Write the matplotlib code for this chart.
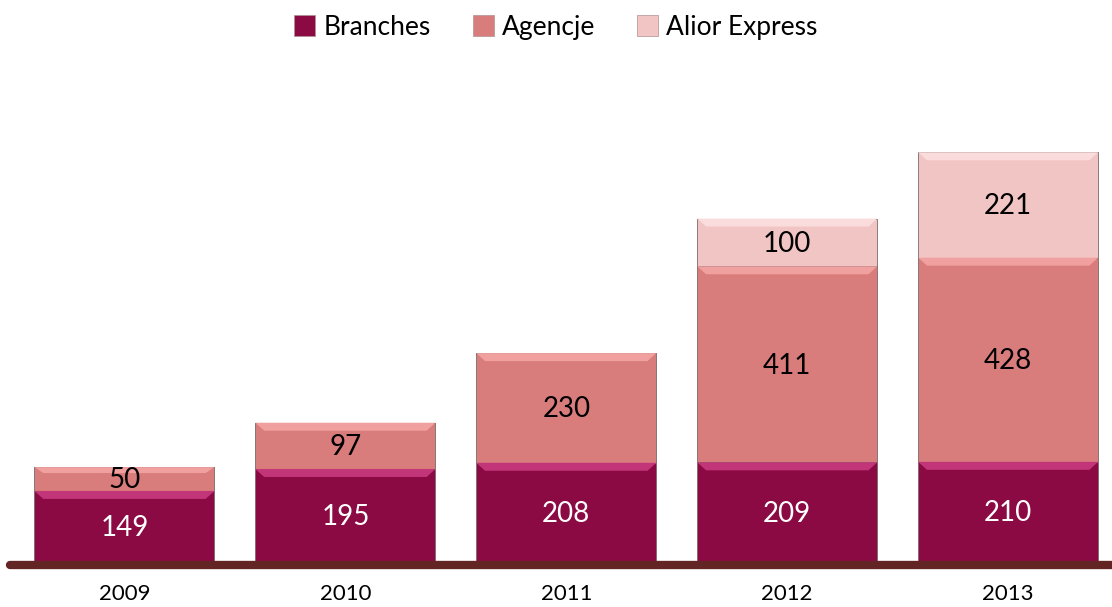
import matplotlib
matplotlib.use("Agg")
import matplotlib.pyplot as plt
from matplotlib.patches import Polygon, Patch
import numpy as np

plt.rcParams['font.family'] = ['Lato', 'DejaVu Sans']

# data
years = ['2009', '2010', '2011', '2012', '2013']
branches = [149, 195, 208, 209, 210]
agencje = [50, 97, 230, 411, 428]
alior_express = [0, 0, 0, 100, 221]

series = [
    ('Branches', branches, '#8C0A44', '#C23578', 'white'),
    ('Agencje', agencje, '#D97C7C', '#F0A09E', 'black'),
    ('Alior Express', alior_express, '#F2C5C5', '#FADCDC', 'black'),
]

fig = plt.figure(figsize=(11.12, 6.07), dpi=100)
ax = fig.add_axes([14 / 1112, 45 / 607, 1098 / 1112, 460 / 607])

x = np.arange(len(years))
width = 0.815
ax.set_xlim(-0.5, 4.47)
ax.set_ylim(0, 460 / 0.477)

bottom = np.zeros(len(years))
for name, vals, col, light, tcol in series:
    vals = np.array(vals, dtype=float)
    ax.bar(x, vals, width, bottom=bottom, color=col,
           edgecolor='#7a6a6a', linewidth=0.6, zorder=2)
    # subtle bevel on top of each segment
    for xi, b, v in zip(x, bottom, vals):
        if v <= 0:
            continue
        bh = min(8, v * 0.477 * 0.25) / 0.477
        dx = 0.04
        top = b + v
        ax.add_patch(Polygon([[xi - width / 2, top], [xi + width / 2, top],
                              [xi + width / 2 - dx, top - bh], [xi - width / 2 + dx, top - bh]],
                             closed=True, facecolor=light, edgecolor='none', zorder=3))
        ax.text(xi, b + v / 2 - 3, str(int(v)), ha='center', va='center',
                fontsize=20, color=tcol, zorder=4)
    bottom = bottom + vals

# baseline
ax.plot([-0.52, 4.47], [-6, -6], color='#632523', linewidth=6,
        solid_capstyle='round', clip_on=False, zorder=5)

for s in ax.spines.values():
    s.set_visible(False)
ax.set_yticks([])
ax.set_xticks(x)
ax.set_xticklabels(years, fontsize=16)
ax.tick_params(axis='x', length=0, pad=16)

handles = [Patch(facecolor=c, edgecolor='#b09090', linewidth=0.5) for _, _, c, _, _ in series]
fig.legend(handles, [s[0] for s in series], loc='upper center',
           bbox_to_anchor=(0.5, 1.015), ncol=3, frameon=False, fontsize=19,
           handlelength=0.8, handleheight=0.8, handletextpad=0.3, columnspacing=1.6)

fig.savefig('out.png', dpi=100)
